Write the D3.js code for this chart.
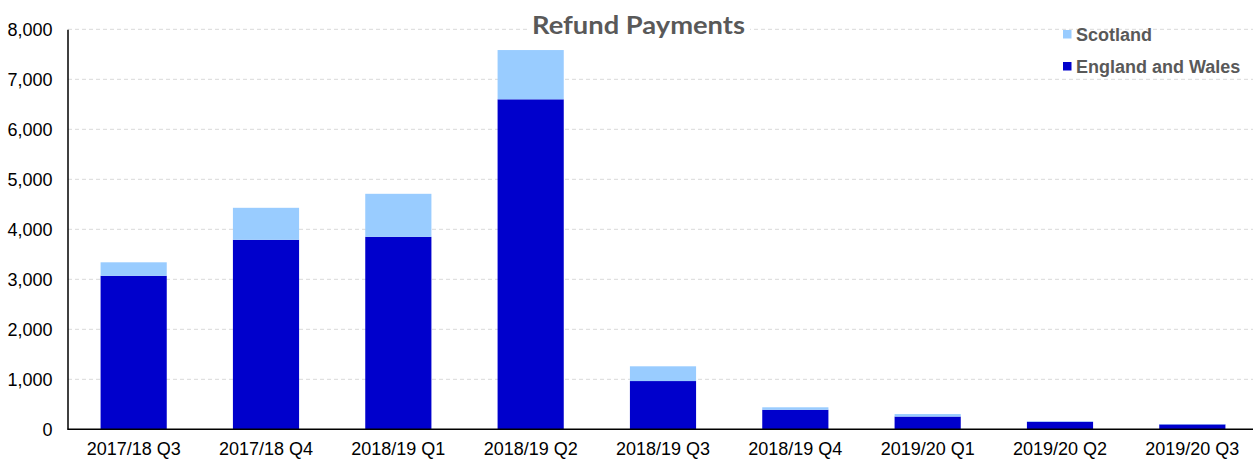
<!DOCTYPE html>
<html>
<head>
<meta charset="utf-8">
<script src="https://cdn.jsdelivr.net/npm/d3@7"></script>
<style>
  body { margin: 0; background: #fff; }
  text { font-family: "Liberation Sans", Arial, sans-serif; }
</style>
</head>
<body>
<div id="chart"></div>
<script>
// refund payments by quarter, stacked
const quarters = ["2017/18 Q3", "2017/18 Q4", "2018/19 Q1", "2018/19 Q2", "2018/19 Q3",
  "2018/19 Q4", "2019/20 Q1", "2019/20 Q2", "2019/20 Q3"];
const englandWales = [3070, 3790, 3850, 6600, 965, 390, 255, 150, 98];
const scotland = [270, 640, 860, 985, 295, 50, 50, 10, 8];
const yTicks = [0, 1000, 2000, 3000, 4000, 5000, 6000, 7000, 8000];

const width = 1253;
const height = 464;
const colEW = "#0000CC";
const colScot = "#99CCFF";

const svg = d3.select("#chart").append("svg")
  .attr("width", width)
  .attr("height", height);

const x = d3.scaleBand().domain(quarters).range([67.5, 1258.5]).paddingInner(0.5).paddingOuter(0.25);
const y = d3.scaleLinear().domain([0, 8000]).range([429.3, 29.3]);

// gridlines
svg.append("g")
  .selectAll("line")
  .data(yTicks.filter(d => d > 0))
  .enter()
  .append("line")
  .attr("x1", 68).attr("x2", width)
  .attr("y1", d => y(d)).attr("y2", d => y(d))
  .attr("stroke", "#D9D9D9")
  .attr("stroke-width", 1)
  .attr("stroke-dasharray", "4,3");

const rows = quarters.map((q, i) => ({ q, ew: englandWales[i], sc: scotland[i] }));
const stacked = d3.stack().keys(["ew", "sc"])(rows);
const colors = { ew: colEW, sc: colScot };

svg.append("g")
  .selectAll("g")
  .data(stacked)
  .enter()
  .append("g")
  .attr("fill", d => colors[d.key])
  .selectAll("rect")
  .data(d => d)
  .enter()
  .append("rect")
  .attr("x", d => x(d.data.q))
  .attr("width", x.bandwidth())
  .attr("y", d => y(d[1]))
  .attr("height", d => y(d[0]) - y(d[1]));

// axes
const yAxis = svg.append("g")
  .attr("transform", "translate(67.5,0)")
  .call(d3.axisLeft(y).tickValues(yTicks).tickFormat(d3.format(",")).tickSize(0).tickPadding(15));
yAxis.select(".domain").attr("stroke", "#000").attr("stroke-width", 1.5);
yAxis.selectAll("text").style("font-size", "18px").attr("fill", "#000");

const xAxis = svg.append("g")
  .attr("transform", "translate(0,429.3)")
  .call(d3.axisBottom(x).tickSize(0).tickPadding(13));
xAxis.select(".domain").attr("d", "M67.5,0H" + width).attr("stroke", "#000").attr("stroke-width", 1.5);
xAxis.selectAll("text").style("font-size", "18px").attr("fill", "#000");

// title
const title = svg.append("g");
title.append("rect")
  .attr("x", 527).attr("y", 8).attr("width", 223).attr("height", 32)
  .attr("fill", "#fff");
title.append("text")
  .attr("x", 638.5).attr("y", 34)
  .attr("text-anchor", "middle")
  .attr("textLength", 213)
  .attr("lengthAdjust", "spacingAndGlyphs")
  .style("font-family", "Lato, 'Open Sans', sans-serif")
  .style("font-weight", "bold")
  .style("font-size", "25px")
  .attr("fill", "#595959")
  .text("Refund Payments");

// legend
const legendItems = [["Scotland", colScot], ["England and Wales", colEW]];
const legend = svg.append("g").attr("transform", "translate(1063,29)");
legendItems.forEach((item, i) => {
  legend.append("rect").attr("x", 0).attr("y", i * 32 + 1).attr("width", 8.5).attr("height", 8.5).attr("fill", item[1]);
  legend.append("text").attr("x", 13).attr("y", i * 32 + 11.5)
    .style("font-size", "18px").style("font-weight", "bold")
    .attr("fill", "#595959")
    .text(item[0]);
});
</script>
</body>
</html>
